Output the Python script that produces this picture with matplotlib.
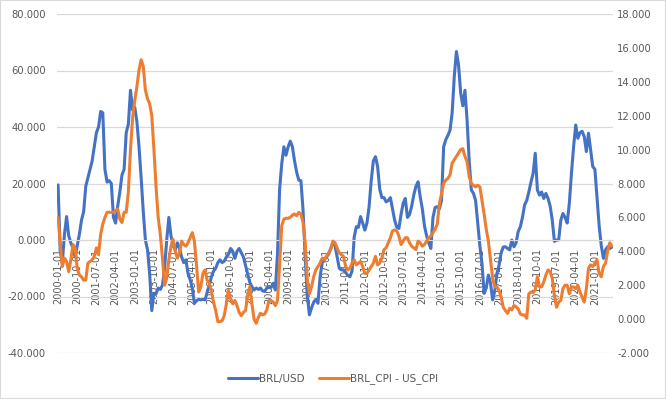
import matplotlib
matplotlib.use("Agg")
import matplotlib.pyplot as plt
import matplotlib.ticker as ticker
import pandas as pd

# monthly, 2000-01 .. 2021-09
months = pd.date_range("2000-01-01", periods=261, freq="MS")

brl_usd = [
    19.5, -4.0, -8.0, 2.0, 8.3, 1.5, -1.0, -3.0, -6.0, -2.0, 2.0, 7.0,            # 2000
    10.0, 19.0, 22.0, 25.0, 28.0, 33.0, 38.0, 40.0, 45.5, 45.0, 25.0, 20.5,       # 2001
    21.0, 20.0, 8.0, 6.0, 12.0, 17.0, 23.0, 25.0, 38.0, 41.0, 53.0, 46.0,         # 2002
    47.0, 42.0, 33.0, 22.0, 10.0, 0.0, -3.5, -12.0, -25.0, -19.0, -19.0, -17.0,   # 2003
    -17.5, -16.0, -10.0, 0.0, 8.0, 1.5, -2.0, -3.5, -1.0, -3.0, -6.0, -8.0,       # 2004
    -7.0, -11.8, -14.0, -17.0, -22.4, -21.5, -21.0, -21.2, -21.0, -21.2, -18.5, -16.0,  # 2005
    -13.0, -11.0, -10.0, -8.0, -7.0, -8.0, -7.5, -6.0, -5.0, -3.0, -4.0, -6.5,    # 2006
    -4.0, -3.0, -4.5, -6.0, -9.0, -12.0, -15.0, -16.5, -17.7, -17.0, -17.5, -17.0,  # 2007
    -18.0, -18.2, -17.0, -16.5, -16.8, -15.3, -17.7, -5.0, 18.0, 27.0, 33.0, 30.0,  # 2008
    33.0, 35.0, 33.0, 28.0, 24.0, 21.2, 21.0, 10.6, -6.0, -20.0, -26.5, -24.0,    # 2009
    -22.0, -21.0, -22.4, -13.0, -8.0, -7.0, -6.0, -5.0, -3.0, -1.0, -2.0, -6.0,   # 2010
    -10.0, -10.6, -10.6, -11.5, -12.5, -13.0, -11.0, 1.0, 4.7, 4.5, 8.3, 6.0,     # 2011
    3.5, 6.0, 11.8, 21.0, 28.0, 29.5, 26.0, 18.0, 15.0, 15.0, 13.5, 14.0,         # 2012
    15.0, 11.0, 7.0, 4.5, 4.1, 9.0, 13.0, 14.7, 8.0, 9.0, 12.0, 16.0,             # 2013
    19.0, 20.6, 15.3, 11.0, 5.0, 1.5, -1.0, -3.0, 8.0, 11.5, 11.8, 11.0,          # 2014
    14.0, 33.0, 35.5, 37.0, 38.9, 45.0, 58.0, 66.7, 62.0, 52.0, 47.5, 53.0,       # 2015
    42.5, 28.0, 17.7, 16.5, 14.0, 6.0, -2.0, -8.3, -18.9, -17.0, -12.4, -15.3,    # 2016
    -21.2, -18.0, -12.0, -9.0, -4.5, -2.5, -2.4, -3.0, -3.5, 0.0, -2.4, -1.0,     # 2017
    3.0, 4.7, 8.0, 12.4, 14.0, 17.0, 20.5, 23.6, 30.7, 17.7, 15.9, 17.0,          # 2018
    14.7, 16.5, 14.7, 12.0, 7.0, -0.5, 0.0, 0.0, 7.0, 9.4, 8.0, 6.0,              # 2019
    13.0, 23.6, 33.0, 40.7, 36.0, 38.0, 38.5, 36.6, 31.3, 37.8, 31.9, 26.0,       # 2020
    25.0, 15.0, 5.0, -2.0, -6.5, -3.5, -2.4, -3.0, -2.5,                          # 2021
]

cpi_diff = [
    6.0, 4.5, 3.1, 3.6, 3.4, 2.8, 3.5, 4.4, 4.2, 3.0, 2.6, 2.5,          # 2000
    2.3, 2.3, 3.3, 3.4, 3.5, 3.7, 4.2, 3.8, 5.0, 5.6, 6.0, 6.3,          # 2001
    6.3, 6.3, 6.3, 6.4, 6.5, 5.9, 5.7, 6.3, 6.3, 7.5, 10.0, 11.9,        # 2002
    12.9, 13.7, 14.7, 15.3, 14.9, 13.5, 13.0, 12.7, 12.0, 10.0, 7.8, 6.0,  # 2003
    5.0, 3.6, 2.0, 2.4, 3.5, 4.3, 4.7, 4.0, 3.6, 3.9, 4.6, 4.4,          # 2004
    4.3, 4.5, 4.8, 5.1, 4.6, 3.2, 1.6, 1.9, 2.7, 2.9, 2.3, 2.1,          # 2005
    1.6, 1.0, 0.5, -0.15, -0.15, -0.1, 0.2, 0.9, 1.7, 1.2, 0.9, 1.1,     # 2006
    0.8, 0.4, 0.2, 0.4, 0.5, 1.4, 1.9, 0.9, 0.0, -0.25, 0.1, 0.35,       # 2007
    0.25, 0.3, 0.55, 1.1, 1.1, 1.0, 0.8, 1.1, 3.2, 5.5, 5.9, 5.95,       # 2008
    5.95, 6.0, 6.14, 6.2, 6.1, 6.3, 6.2, 5.7, 4.5, 2.3, 1.5, 1.9,        # 2009
    2.5, 2.9, 3.1, 3.3, 3.6, 3.5, 3.7, 3.9, 4.1, 4.6, 4.5, 4.2,          # 2010
    3.9, 3.8, 3.7, 3.1, 2.9, 3.0, 3.3, 3.5, 3.2, 3.3, 3.4, 3.1,          # 2011
    2.7, 2.7, 2.9, 3.1, 3.3, 3.7, 3.2, 3.3, 3.6, 4.1, 4.2, 4.5,          # 2012
    4.8, 5.2, 5.26, 5.2, 4.9, 4.4, 4.6, 4.8, 4.8, 4.5, 4.3, 4.2,         # 2013
    4.1, 4.6, 4.5, 4.3, 4.4, 4.6, 4.8, 4.9, 5.1, 5.3, 5.6, 6.8,          # 2014
    7.4, 8.0, 8.2, 8.3, 8.5, 9.2, 9.4, 9.6, 9.8, 10.0, 10.05, 9.6,       # 2015
    9.3, 8.4, 8.0, 7.9, 7.8, 7.9, 7.8, 7.0, 6.2, 5.3, 4.6, 3.5,          # 2016
    2.4, 1.9, 1.9, 1.7, 1.3, 0.7, 0.5, 0.34, 0.64, 0.54, 0.8, 0.73,      # 2017
    0.6, 0.3, 0.24, 0.24, 0.05, 1.5, 1.6, 1.56, 1.72, 2.5, 1.9, 1.9,     # 2018
    2.2, 2.6, 2.9, 2.8, 2.4, 1.4, 0.7, 1.0, 1.1, 1.8, 2.0, 2.0,          # 2019
    1.5, 1.9, 1.9, 1.8, 2.0, 1.6, 1.3, 1.0, 1.8, 3.0, 3.2, 3.1,          # 2020
    3.3, 3.5, 2.7, 2.5, 3.1, 3.3, 4.0, 4.5, 4.3,                         # 2021
]

left_ticks = [-40, -20, 0, 20, 40, 60, 80]
right_ticks = [-2, 0, 2, 4, 6, 8, 10, 12, 14, 16, 18]

BLUE = "#4472C4"
ORANGE = "#ED7D31"
GRID = "#D9D9D9"
TEXT = "#595959"

plt.rcParams["font.family"] = ["DejaVu Sans"]

fig = plt.figure(figsize=(6.66, 3.99), dpi=100)
ax = fig.add_axes([57 / 666, 46 / 399, 556 / 666, 339 / 399])
ax2 = ax.twinx()

x = list(range(len(months)))
ax.plot(x, brl_usd, color=BLUE, linewidth=2.2, label="BRL/USD", solid_capstyle="round")
ax2.plot(x, cpi_diff, color=ORANGE, linewidth=2.2, label="BRL_CPI - US_CPI", solid_capstyle="round")

ax.set_xlim(-0.5, len(months) - 0.5)
ax.set_ylim(-40, 80)
ax2.set_ylim(-2, 18)
ax.set_yticks(left_ticks)
ax2.set_yticks(right_ticks)
ax.yaxis.set_major_formatter(ticker.FuncFormatter(lambda v, _: f"{v:.3f}"))
ax2.yaxis.set_major_formatter(ticker.FuncFormatter(lambda v, _: f"{v:.3f}"))

tick_idx = x[::9]
ax.set_xticks(tick_idx)
ax.set_xticklabels([months[i].strftime("%Y-%m-%d") for i in tick_idx])

ax.grid(axis="y", color=GRID, linewidth=0.9)
ax.set_axisbelow(True)
ax.spines["bottom"].set_position(("data", 0))
ax.spines["bottom"].set_color(GRID)
for a in (ax, ax2):
    for s in ["top", "left", "right"]:
        a.spines[s].set_visible(False)
ax2.spines["bottom"].set_visible(False)

ax.tick_params(axis="x", length=0, pad=6, labelsize=7, labelcolor=TEXT, labelrotation=90)
ax.tick_params(axis="y", length=0, pad=8, labelsize=7.2, labelcolor=TEXT)
ax2.tick_params(axis="y", length=0, pad=3, labelsize=7.2, labelcolor=TEXT)

h1, l1 = ax.get_legend_handles_labels()
h2, l2 = ax2.get_legend_handles_labels()
fig.legend(h1 + h2, l1 + l2, loc="center", bbox_to_anchor=(0.5, 1 - 379 / 399), ncol=2,
           frameon=False, fontsize=7.5, labelcolor=TEXT, handlelength=2.9, handletextpad=0.1,
           columnspacing=1.4)

fig.add_artist(plt.Rectangle((0, 0), 1, 1, transform=fig.transFigure, fill=False,
                             edgecolor=GRID, linewidth=1.5))

plt.savefig("out.png", dpi=100)
plt.close()
